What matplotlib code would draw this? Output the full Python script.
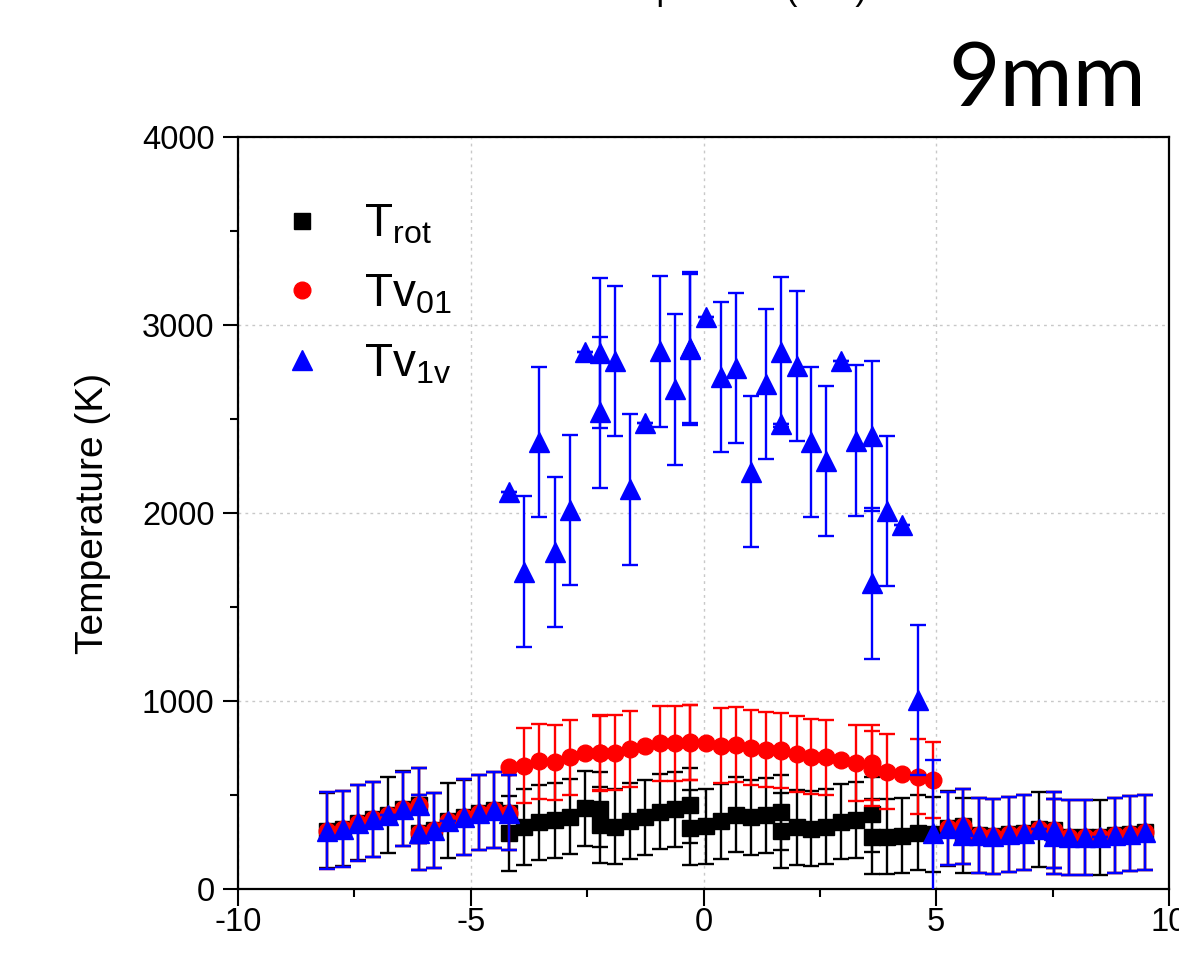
import matplotlib
matplotlib.use("Agg")
import matplotlib.pyplot as plt
from matplotlib.ticker import MultipleLocator
from matplotlib.lines import Line2D

plt.rcParams['font.family'] = ['Liberation Sans', 'DejaVu Sans']
plt.rcParams['mathtext.default'] = 'regular'
plt.rcParams['axes.unicode_minus'] = False

# radial positions (mm); duplicates mark joins between scans
x_pos = [-8.08, -7.75, -7.42, -7.10, -6.77, -6.45, -6.12,
         -6.12, -5.80, -5.48, -5.14, -4.82, -4.50, -4.17,
         -4.17, -3.86, -3.53, -3.20, -2.87, -2.55, -2.22,
         -2.22, -1.90, -1.58, -1.26, -0.94, -0.62, -0.28,
         -0.28, 0.05, 0.37, 0.69, 1.02, 1.35, 1.67,
         1.67, 2.01, 2.32, 2.64, 2.96, 3.28, 3.62,
         3.62, 3.94, 4.27, 4.61, 4.93, 5.26, 5.58,
         5.58, 5.91, 6.23, 6.56, 6.89, 7.21, 7.54,
         7.54, 7.86, 8.19, 8.52, 8.84, 9.17, 9.49]

T_rot = [310, 320, 352, 370, 394, 427, 445,
         300, 312, 364, 382, 406, 420, 405,
         296, 330, 355, 365, 385, 430, 423,
         340, 331, 362, 382, 412, 424, 446,
         327, 333, 360, 395, 382, 392, 407,
         310, 329, 320, 331, 358, 367, 398,
         279, 279, 283, 300, 291, 323, 334,
         285, 285, 281, 291, 300, 318, 314,
         280, 274, 276, 276, 285, 294, 302]
err_rot = [200] * 63

Tv01 = [310, 320, 352, 370, 394, 427, 445,
        300, 312, 364, 382, 406, 420, 405,
        651, 655, 680, 675, 700, 722, 725,
        722, 725, 745, 760, 775, 775, 780,
        778, 775, 762, 768, 752, 742, 742,
        735, 718, 704, 700, 686, 670, 672,
        640, 625, 612, 597, 580, 323, 334,
        285, 285, 281, 291, 300, 318, 314,
        280, 274, 276, 276, 285, 294, 302]
err_v01 = [204, 201, 201, 201, 0, 198, 200,
           200, 200, 0, 201, 200, 200, 200,
           0, 200, 200, 200, 200, 0, 200,
           200, 200, 200, 0, 200, 200, 200,
           200, 0, 200, 200, 200, 200, 0,
           200, 200, 200, 200, 0, 200, 200,
           200, 200, 0, 200, 200, 195, 200,
           0, 200, 200, 200, 200, 0, 200,
           200, 200, 200, 0, 200, 200, 200]

Tv1v = [310, 320, 352, 370, 394, 427, 445,
        300, 312, 364, 382, 406, 420, 405,
        2113, 1688, 2379, 1794, 2016, 2858, 2850,
        2535, 2810, 2126, 2477, 2860, 2658, 2870,
        2880, 3044, 2725, 2770, 2220, 2685, 2473,
        2858, 2782, 2379, 2278, 2808, 2385, 2410,
        1626, 2011, 1936, 1005, 296, 323, 334,
        285, 285, 281, 291, 300, 318, 314,
        280, 274, 276, 276, 285, 294, 302]
err_v1v = [204, 201, 201, 201, 0, 198, 200,
           200, 200, 0, 201, 200, 200, 200,
           0, 400, 400, 400, 400, 0, 400,
           400, 400, 400, 0, 400, 400, 400,
           400, 0, 400, 400, 400, 400, 0,
           400, 400, 400, 400, 0, 400, 400,
           400, 400, 0, 400, 390, 195, 200,
           0, 200, 200, 200, 200, 0, 200,
           200, 200, 200, 0, 200, 200, 200]

labels = [r'T$_{rot}$', r'Tv$_{01}$', r'Tv$_{1v}$']

fig = plt.figure(figsize=(11.79, 9.55), dpi=100)
ax = fig.add_axes([0.2019, 0.0691, 0.7896, 0.7874])

common = dict(linestyle='none', elinewidth=1.7, capsize=6, capthick=1.7)
ax.errorbar(x_pos, T_rot, yerr=err_rot, fmt='s', color='black', ms=11,
            mec='black', zorder=3, **common)
ax.errorbar(x_pos, Tv01, yerr=err_v01, fmt='o', color='red', ms=12,
            mec='red', zorder=4, **common)
ax.errorbar(x_pos, Tv1v, yerr=err_v1v, fmt='^', color='blue', ms=14.5,
            mec='blue', zorder=5, **common)

ax.set_xlim(-10, 10)
ax.set_ylim(0, 4000)
ax.xaxis.set_major_locator(MultipleLocator(5))
ax.xaxis.set_minor_locator(MultipleLocator(2.5))
ax.yaxis.set_major_locator(MultipleLocator(1000))
ax.yaxis.set_minor_locator(MultipleLocator(500))
ax.tick_params(which='both', direction='out', width=1.5, labelsize=23.5,
               top=False, right=False, colors='black')
ax.tick_params(axis='x', which='major', length=12, pad=1)
ax.tick_params(axis='y', which='major', length=11, pad=6)
ax.tick_params(which='minor', length=6)
for s in ax.spines.values():
    s.set_linewidth(1.6)
ax.grid(True, which='major', linestyle=(0, (2, 3)), color='#c8c8c8', linewidth=1.0)
ax.set_axisbelow(True)

ax.set_ylabel('Temperature (K)', fontsize=28, labelpad=22)

handles = [Line2D([], [], ls='none', marker='s', color='black', ms=11),
           Line2D([], [], ls='none', marker='o', color='red', ms=12),
           Line2D([], [], ls='none', marker='^', color='blue', ms=14.5)]
ax.legend(handles, labels, loc='upper left', bbox_to_anchor=(0.024, 0.937),
          frameon=False, fontsize=33, handlelength=1.0, handletextpad=0.86,
          labelspacing=0.56, borderaxespad=0)

fig.text(0.6, 1.0, 'Radial position (mm)', fontsize=25,
         ha='center', va='baseline')
fig.text(0.972, 1 - 106 / 955, '9mm', fontsize=64, family='Lato',
         ha='right', va='baseline')

fig.savefig('out.png', dpi=100)
